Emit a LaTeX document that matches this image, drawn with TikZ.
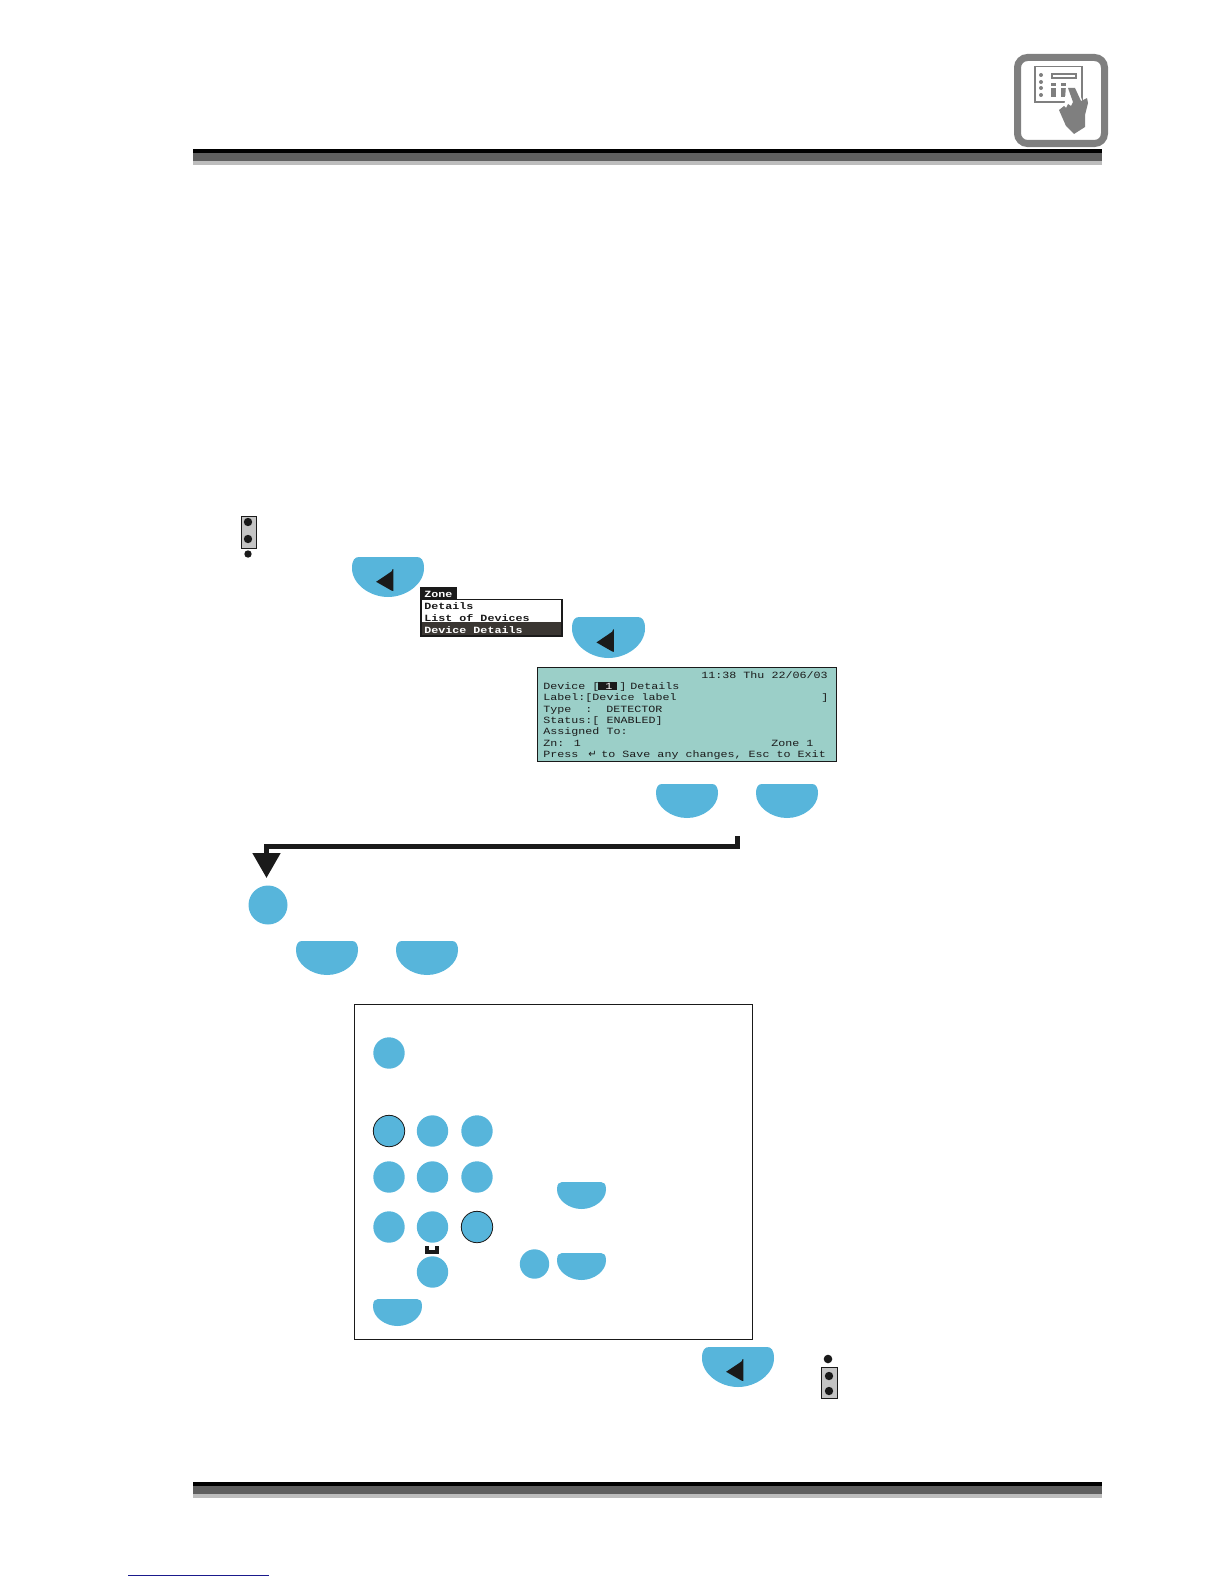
\documentclass[tikz,border=0pt]{standalone}
\usepackage{fontspec}
\usetikzlibrary{arrows.meta}
\newfontfamily\lcdfont[FakeStretch=1.23]{Liberation Mono}
\newfontfamily\symfont{DejaVu Sans}
\definecolor{keyblue}{HTML}{57B5DB}
\definecolor{lcdgreen}{HTML}{9BCFC8}
\definecolor{inkblack}{HTML}{1A1A1A}
\definecolor{ruledark}{HTML}{5F5F5F}
\definecolor{rulelight}{HTML}{BDBDBD}
\definecolor{icongrey}{HTML}{7F7F7F}
\definecolor{ledgrey}{HTML}{C4C4C4}
\definecolor{menudark}{HTML}{3A3632}
\definecolor{linkblue}{HTML}{1A1A8C}
\tikzset{
  halfkey/.pic={
    \fill[keyblue] (0.1,0) -- (0.9,0) .. controls (0.96,0) and (1,0.07) .. (1,0.28)
      .. controls (1,0.68) and (0.75,1) .. (0.5,1)
      .. controls (0.25,1) and (0,0.68) .. (0,0.28)
      .. controls (0,0.07) and (0.04,0) .. (0.1,0) -- cycle;
  },
  enterkey/.pic={
    \fill[keyblue] (0.1,0) -- (0.9,0) .. controls (0.96,0) and (1,0.07) .. (1,0.28)
      .. controls (1,0.68) and (0.75,1) .. (0.5,1)
      .. controls (0.25,1) and (0,0.68) .. (0,0.28)
      .. controls (0,0.07) and (0.04,0) .. (0.1,0) -- cycle;
    \fill[inkblack] (0.335,0.62) -- (0.55,0.36) -- (0.565,0.3) -- (0.575,0.3) -- (0.575,0.85) -- (0.55,0.84) -- cycle;
  },
  keydisc/.style={circle,fill=keyblue,draw=none,inner sep=0pt,minimum size=15.7pt},
  keydiscring/.style={keydisc,draw=inkblack,line width=0.4pt},
  leddot/.style={circle,fill=inkblack,inner sep=0pt,minimum size=4.2pt},
  ledbox/.style={draw=inkblack,fill=ledgrey,line width=0.5pt},
  lcdline/.style={anchor=base west,inner sep=0pt,text=inkblack,font=\lcdfont\fontsize{4.75}{5}\selectfont},
  menuline/.style={lcdline,font=\lcdfont\bfseries\fontsize{4.75}{5}\selectfont},
  flowarrow/.style={line width=2.5pt,inkblack,-{Triangle[width=13.5pt,length=12.5pt]}},
}
\begin{document}
\begin{tikzpicture}[x=0.5pt,y=-0.5pt]
\useasboundingbox (0,0) rectangle (1224,1584);
% header and footer rules
\fill[black] (193,149) rectangle (1102,153);
\fill[ruledark] (193,153) rectangle (1102,161);
\fill[rulelight] (193,161) rectangle (1102,165);
\fill[black] (193,1482) rectangle (1102,1486);
\fill[ruledark] (193,1486) rectangle (1102,1494);
\fill[rulelight] (193,1494) rectangle (1102,1498);
\draw[linkblue,line width=0.5pt] (128,1575) -- (269,1575);
% icon
\draw[icongrey,line width=3.5pt,rounded corners=5pt] (1017.5,57.5) rectangle (1104.5,143.5);
\draw[icongrey,line width=0.6pt] (1035,66.5) rectangle (1082,102);
\foreach \yy in {75,82,88,95} \fill[icongrey] (1041,\yy) circle (1pt);
\draw[icongrey,line width=1pt] (1052,74) rectangle (1076,78.5);
\fill[icongrey] (1051,83) rectangle (1055.5,86);
\fill[icongrey] (1061,83) rectangle (1066,86);
\fill[icongrey] (1051,88) rectangle (1055.5,97);
\fill[icongrey] (1061,88) rectangle (1066,97);
\fill[white] (1066,86) -- (1077,86) -- (1083,103) -- (1064,112) -- cycle;
\fill[icongrey] (1068,88) -- (1075,88) -- (1081,101) -- (1087,98) -- (1088,103)
  -- (1085,115) -- (1085,127) -- (1074,134) -- (1066,126) -- (1059,110) -- (1064,106)
  -- (1066,108) -- (1068,104) -- (1071,106) -- (1073,102) -- cycle;
% first instruction group
\draw[ledbox] (241.5,516) rectangle (256,548);
\node[leddot] (ledA1) at (248,522) {};
\node[leddot] (ledA2) at (248,539) {};
\node[leddot,minimum size=3.7pt] (ledA3) at (248,554) {};
\pic[xscale=72,yscale=40] (enterA) at (352,557) {enterkey};
% menu
\fill[inkblack] (420,587) rectangle (457,600);
\fill[inkblack] (420,599) rectangle (563,637);
\fill[white] (422,600) rectangle (561,622);
\fill[menudark] (422,622) rectangle (561,635);
\node[menuline,text=white] (mZone) at (424,597) {Zone};
\node[menuline] (mDetails) at (424,609) {Details};
\node[menuline] (mList) at (424,621) {List of Devices};
\node[menuline,text=white] (mDevice) at (424,633) {Device Details};
\pic[xscale=73,yscale=41] (enterB) at (572,617) {enterkey};
% LCD
\draw[inkblack,fill=lcdgreen,line width=0.45pt] (537,667) rectangle (836,761);
\fill[inkblack] (598,681.5) rectangle (617,690);
\node[lcdline] (lTime) at (701,678) {11:38 Thu 22/06/03};
\node[lcdline] (lDev) at (543,689) {Device [};
\node[lcdline,text=white] (lOne) at (605,689) {1};
\node[lcdline] (lBr) at (619,689) {]};
\node[lcdline] (lDet) at (630,689) {Details};
\node[lcdline] (lLab) at (543,700) {Label:[Device label};
\node[lcdline] (lLabB) at (821,700) {]};
\node[lcdline] (lType) at (543,712) {Type};
\node[lcdline] (lCol) at (585,712) {:};
\node[lcdline] (lDetc) at (606,712) {DETECTOR};
\node[lcdline] (lStat) at (543,723) {Status:[ ENABLED]};
\node[lcdline] (lAss) at (543,734) {Assigned To:};
\node[lcdline] (lZn) at (543,746) {Zn: 1};
\node[lcdline] (lZone) at (771,746) {Zone 1};
\node[lcdline] (lPr) at (543,757) {Press};
\node[lcdline,font=\symfont\fontsize{5}{5}\selectfont] (lRet) at (588,757) {↵};
\node[lcdline] (lSave) at (601,757) {to Save any changes, Esc to Exit};
% pairs of keys and the arrow
\pic[xscale=62,yscale=34] (keyA) at (656,784) {halfkey};
\pic[xscale=62,yscale=34] (keyB) at (756,784) {halfkey};
\coordinate (flowStart) at (737.5,836);
\coordinate (flowCornerA) at (737.5,846.5);
\coordinate (flowCornerB) at (266.5,846.5);
\coordinate (flowEnd) at (266.5,878);
\draw[flowarrow] (flowStart) -- (flowCornerA) -- (flowCornerB) -- (flowEnd);
\node[keydisc,minimum size=19.5pt] (stepKey) at (268,905) {};
\pic[xscale=62,yscale=34] (keyC) at (296,941) {halfkey};
\pic[xscale=62,yscale=34] (keyD) at (396,941) {halfkey};
% keypad box
\draw[inkblack,line width=0.5pt] (354,1004) rectangle (752,1339);
\node[keydisc] (kTop) at (389,1053) {};
\node[keydiscring] (k1) at (389,1131) {};
\node[keydisc] (k2) at (432.5,1131) {};
\node[keydisc] (k3) at (477,1131) {};
\node[keydisc] (k4) at (389,1177) {};
\node[keydisc] (k5) at (432.5,1177) {};
\node[keydisc] (k6) at (477,1177) {};
\node[keydisc] (k7) at (389,1227) {};
\node[keydisc] (k8) at (432.5,1227) {};
\node[keydiscring] (k9) at (477,1227) {};
\node[keydisc] (k0) at (432.5,1272) {};
\fill[inkblack] (425,1246) rectangle (439,1254);
\fill[white] (429,1245.5) rectangle (435,1250);
\node[keydisc,minimum size=14.7pt] (kShift) at (534.5,1264) {};
\pic[xscale=49,yscale=27] (keyE) at (557,1182) {halfkey};
\pic[xscale=49,yscale=27] (keyF) at (557,1253) {halfkey};
\pic[xscale=49,yscale=27] (keyG) at (373,1299) {halfkey};
% final step
\pic[xscale=72,yscale=40] (enterC) at (702,1347) {enterkey};
\node[leddot,minimum size=4.3pt] (ledB3) at (828,1359) {};
\draw[ledbox] (821.5,1367) rectangle (837,1398);
\node[leddot] (ledB1) at (829,1376) {};
\node[leddot] (ledB2) at (829,1391) {};
\end{tikzpicture}
\end{document}
